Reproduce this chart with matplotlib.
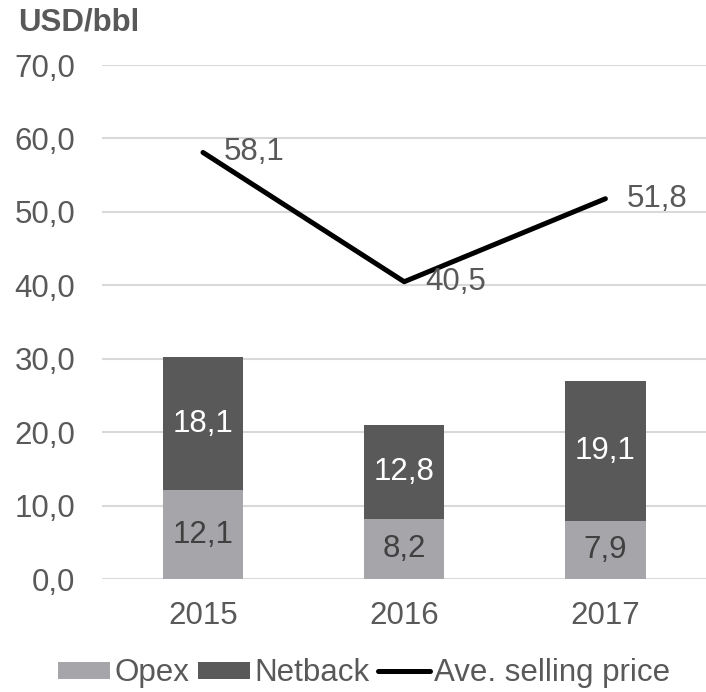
import numpy as np
import matplotlib.pyplot as plt

years = ['2015', '2016', '2017']
opex = [12.1, 8.2, 7.9]
netback = [18.1, 12.8, 19.1]
price = [58.1, 40.5, 51.8]

plt.rcParams['font.family'] = ['Liberation Sans', 'DejaVu Sans']
txt = '#595959'
fs = 22.5

fig = plt.figure(figsize=(7.06, 6.92), dpi=100)
ax = fig.add_axes([0.145, 0.163, 0.855, 0.743])

x = np.arange(len(years))
b1 = ax.bar(x, opex, 0.4, color='#a6a6aa', label='Opex', zorder=2)
b2 = ax.bar(x, netback, 0.4, bottom=opex, color='#595959', label='Netback', zorder=2)
ln, = ax.plot(x, price, color='black', lw=3.6, solid_capstyle='round', label='Ave. selling price', zorder=3)

for i in range(len(years)):
    ax.text(x[i], opex[i] / 2, f'{opex[i]:.1f}'.replace('.', ','), ha='center', va='center',
            fontsize=fs, color='#404040', zorder=4)
    ax.text(x[i], opex[i] + netback[i] / 2, f'{netback[i]:.1f}'.replace('.', ','), ha='center',
            va='center', fontsize=fs, color='white', zorder=4)
    ax.annotate(f'{price[i]:.1f}'.replace('.', ','), (x[i], price[i]), xytext=(15, 0),
                textcoords='offset points', ha='left', va='center', fontsize=fs, color=txt, zorder=4)

ax.set_xlim(-0.5, 2.5)
ax.set_ylim(0, 70)
ax.set_yticks(np.arange(0, 71, 10))
ax.set_yticklabels([f'{v:.1f}'.replace('.', ',') for v in np.arange(0, 71, 10)])
ax.set_xticks(x)
ax.set_xticklabels(years)
ax.tick_params(axis='x', length=0, labelsize=fs, labelcolor=txt, pad=16)
ax.tick_params(axis='y', length=0, labelsize=fs, labelcolor=txt, pad=19.5)
ax.grid(axis='y', color='#d9d9d9', lw=1.5, zorder=0)
for s in ax.spines.values():
    s.set_visible(False)

fig.text(0.025, 0.967, 'USD/bbl', fontsize=22.5, fontweight='bold', color=txt, va='center')

fig.legend(handles=[b1, b2, ln], loc='center', bbox_to_anchor=(0.516, 0.027), ncol=3, frameon=False,
           fontsize=fs, labelcolor=txt, handlelength=1.66, handleheight=0.48, handletextpad=0.12,
           columnspacing=0.3, borderaxespad=0, borderpad=0)

fig.savefig('out.png', dpi=100)
